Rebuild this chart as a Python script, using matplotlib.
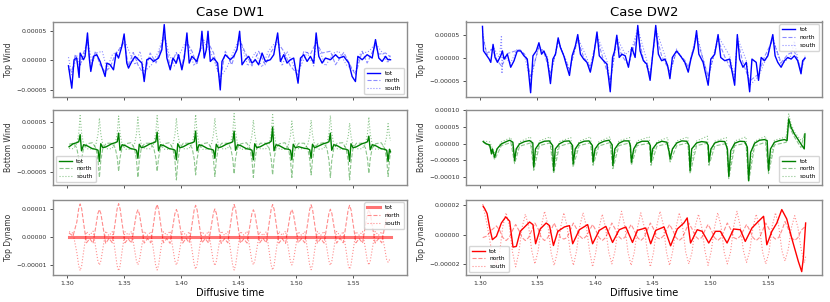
import matplotlib
matplotlib.use("Agg")
import matplotlib.pyplot as plt
from matplotlib.ticker import MultipleLocator, FuncFormatter
import numpy as np

# all values below are in units of 1e-5

# ---------------- Case DW1 : top wind ----------------
dw1_tw_t = [1.3015, 1.3044, 1.3064, 1.3087, 1.3108, 1.3117, 1.3146, 1.3160, 1.3181, 1.3198,
            1.3210, 1.3233, 1.3262, 1.3291, 1.3335, 1.3350, 1.3379, 1.3408, 1.3431, 1.3452,
            1.3481, 1.3501, 1.3524, 1.3539, 1.3568, 1.3597, 1.3626, 1.3656, 1.3676, 1.3699,
            1.3728, 1.3758, 1.3801, 1.3830, 1.3851, 1.3874, 1.3903, 1.3927, 1.3956, 1.3976,
            1.4005, 1.4026, 1.4049, 1.4069, 1.4093, 1.4136, 1.4166, 1.4180, 1.4200, 1.4218,
            1.4233, 1.4253, 1.4282, 1.4317, 1.4340, 1.4355, 1.4384, 1.4428, 1.4457, 1.4486,
            1.4509, 1.4530, 1.4559, 1.4588, 1.4617, 1.4646, 1.4675, 1.4705, 1.4734, 1.4777,
            1.4807, 1.4841, 1.4865, 1.4894, 1.4923, 1.4952, 1.4981, 1.5019, 1.5040, 1.5069,
            1.5098, 1.5127, 1.5156, 1.5177, 1.5200, 1.5229, 1.5258, 1.5302, 1.5346, 1.5375,
            1.5418, 1.5462, 1.5491, 1.5520, 1.5541, 1.5579, 1.5622, 1.5666, 1.5695, 1.5724,
            1.5753, 1.5783, 1.5803, 1.5826]
dw1_tw_tot = [-0.97, -4.77, 0.06, 0.34, -2.95, 1.19, 0.06, 0.63, 4.60, 0.06,
              -1.93, 0.63, 0.91, -0.23, -2.78, -0.51, -0.80, -1.65, 1.19, 0.34,
              2.33, 4.43, -0.51, -1.36, -0.23, 0.63, 0.06, -0.51, -3.64, 0.06,
              0.34, -0.23, 0.34, 1.76, 6.02, 0.34, -1.65, 0.34, -0.51, 0.91,
              -1.65, 0.34, 4.60, -0.51, 0.63, -0.23, 1.76, 4.89, 0.34, 1.76,
              4.89, -0.23, 0.34, -0.51, -5.06, -0.23, 0.91, 0.06, 0.63, 1.76,
              4.89, -0.80, 0.06, 0.63, -0.51, 0.06, -0.80, 1.19, -0.23, 0.06,
              0.91, 4.60, -0.23, 0.91, -0.51, 0.06, 0.34, -3.92, 0.34, 0.91,
              -0.23, 0.63, -0.51, 4.60, 0.63, -0.51, 0.34, 0.06, 0.91, 0.34,
              0.63, -0.51, -2.78, -3.64, 0.63, 0.06, 0.91, 0.34, 3.47, 0.34,
              -0.23, 0.63, 0.06, 0.06]
dw1_tw_north_t = [1.3015, 1.3044, 1.3075, 1.3108, 1.3146, 1.3181, 1.3210, 1.3250, 1.3291, 1.3335,
                  1.3379, 1.3420, 1.3501, 1.3539, 1.3580, 1.3626, 1.3676, 1.3728, 1.3780, 1.3851,
                  1.3903, 1.3956, 1.4005, 1.4049, 1.4093, 1.4136, 1.4180, 1.4233, 1.4282, 1.4340,
                  1.4384, 1.4440, 1.4509, 1.4559, 1.4617, 1.4675, 1.4734, 1.4777, 1.4841, 1.4894,
                  1.4952, 1.5019, 1.5069, 1.5127, 1.5177, 1.5229, 1.5302, 1.5346, 1.5418, 1.5491,
                  1.5520, 1.5579, 1.5622, 1.5695, 1.5724, 1.5783, 1.5826]
dw1_tw_north = [-1.5, -2.0, 1.0, -1.5, 1.2, 3.0, -1.5, 1.5, -0.8, -2.0,
                -1.2, 0.8, 3.0, -1.0, 1.3, -1.0, -2.5, 1.2, -0.5, 4.0,
                -1.2, 1.3, -1.0, 3.0, 1.5, -0.8, 3.5, 3.0, 1.2, -3.5,
                1.5, -0.8, 3.5, 1.2, -1.0, 1.5, -0.8, 1.2, 3.0, 1.5,
                -1.0, -2.5, 1.5, 1.0, 3.0, 1.2, 1.5, -0.8, 1.3, -1.5,
                -2.5, 1.5, -0.5, 2.5, 1.0, 1.2, 0.5]
dw1_tw_south_t = [1.3015, 1.3044, 1.3087, 1.3117, 1.3160, 1.3181, 1.3220, 1.3262, 1.3310, 1.3350,
                  1.3400, 1.3452, 1.3501, 1.3550, 1.3597, 1.3640, 1.3676, 1.3740, 1.3801, 1.3851,
                  1.3890, 1.3940, 1.3990, 1.4049, 1.4110, 1.4166, 1.4200, 1.4253, 1.4300, 1.4340,
                  1.4400, 1.4457, 1.4509, 1.4580, 1.4646, 1.4705, 1.4760, 1.4841, 1.4880, 1.4923,
                  1.4981, 1.5019, 1.5098, 1.5156, 1.5177, 1.5258, 1.5330, 1.5375, 1.5440, 1.5520,
                  1.5560, 1.5640, 1.5695, 1.5753, 1.5803, 1.5826]
dw1_tw_south = [0.5, -2.5, 0.8, -1.0, 1.5, 3.5, -0.5, 1.2, 1.5, -1.5,
                1.0, 1.5, 3.5, 1.2, -0.8, 1.5, -2.0, -0.8, 1.5, 4.5,
                1.2, -1.0, 1.2, 3.5, -1.0, 1.5, 3.0, 1.5, -0.8, -3.0,
                -1.2, 1.5, 3.8, -1.0, 1.3, -1.2, 1.5, 3.5, -1.0, 1.5,
                -1.0, -2.0, 1.3, -1.0, 3.2, -1.0, 1.2, 1.5, -0.8, -2.0,
                1.0, 1.5, 2.8, 1.3, -0.5, 1.0]

# ---------------- Case DW1 : bottom wind ----------------
dw1_bw_t = [1.3020,
            1.3057, 1.3087, 1.3105, 1.3117, 1.3129, 1.3147, 1.3177,
            1.3225, 1.3255, 1.3273, 1.3285, 1.3297, 1.3315, 1.3345,
            1.3393, 1.3423, 1.3441, 1.3453, 1.3465, 1.3483, 1.3513,
            1.3561, 1.3591, 1.3609, 1.3621, 1.3633, 1.3651, 1.3681,
            1.3729, 1.3759, 1.3777, 1.3789, 1.3801, 1.3819, 1.3849,
            1.3897, 1.3927, 1.3945, 1.3957, 1.3969, 1.3987, 1.4017,
            1.4065, 1.4095, 1.4113, 1.4125, 1.4137, 1.4155, 1.4185,
            1.4233, 1.4263, 1.4281, 1.4293, 1.4305, 1.4323, 1.4353,
            1.4401, 1.4431, 1.4449, 1.4461, 1.4473, 1.4491, 1.4521,
            1.4569, 1.4599, 1.4617, 1.4629, 1.4641, 1.4659, 1.4689,
            1.4737, 1.4767, 1.4785, 1.4797, 1.4809, 1.4827, 1.4857,
            1.4905, 1.4935, 1.4953, 1.4965, 1.4977, 1.4995, 1.5025,
            1.5073, 1.5103, 1.5121, 1.5133, 1.5145, 1.5163, 1.5193,
            1.5241, 1.5271, 1.5289, 1.5301, 1.5313, 1.5331, 1.5361,
            1.5409, 1.5439, 1.5457, 1.5469, 1.5481, 1.5499, 1.5529,
            1.5577, 1.5607, 1.5625, 1.5637, 1.5649, 1.5667, 1.5697,
            1.5745, 1.5775, 1.5793, 1.5805, 1.5817, 1.5826]
dw1_bw_tot = [0.0,
              0.6, 0.8, 1.0, 2.4, -0.8, 0.4, 0.2,
              -0.4, -0.5, -0.7, -2.9, 0.6, -0.2, 0.0,
              0.6, 0.8, 1.0, 2.7, -0.7, 0.4, 0.2,
              -0.4, -0.5, -0.7, -2.3, 0.5, -0.2, 0.0,
              0.6, 0.8, 1.0, 2.9, -0.8, 0.4, 0.2,
              -0.4, -0.5, -0.7, -2.6, 0.6, -0.2, 0.0,
              0.6, 0.8, 1.0, 3.1, -0.8, 0.4, 0.2,
              -0.4, -0.5, -0.7, -2.3, 0.5, -0.2, 0.0,
              0.6, 0.8, 1.0, 3.1, -0.7, 0.4, 0.2,
              -0.4, -0.5, -0.7, -2.6, 0.6, -0.2, 0.0,
              0.6, 0.8, 1.1, 3.9, -0.8, 0.4, 0.2,
              -0.4, -0.5, -0.7, -2.6, 0.5, -0.2, 0.0,
              -0.3, -0.4, -0.6, -2.3, 0.5, -0.2, 0.1,
              0.6, 0.8, 1.0, 2.7, -0.7, 0.4, 0.2,
              -0.4, -0.5, -0.7, -2.9, 0.6, -0.2, 0.0,
              0.6, 0.8, 1.0, 2.1, -0.6, 0.4, 0.2,
              -0.4, -0.5, -0.7, -2.9, -0.5, -1.0]
dw1_bw_north = [0.5,
                0.7, -0.2, -2.4, -5.5, -2.5, -0.3, 0.6,
                0.8, -0.3, -2.7, -6.1, -2.8, -0.3, 0.7,
                0.7, -0.2, -2.2, -4.9, -2.2, -0.2, 0.6,
                0.8, -0.3, -2.7, -6.1, -2.7, -0.3, 0.7,
                0.7, -0.2, -2.2, -4.9, -2.3, -0.2, 0.6,
                0.8, -0.4, -2.9, -6.6, -3.0, -0.3, 0.7,
                0.7, -0.3, -2.5, -5.6, -2.5, -0.3, 0.6,
                0.8, -0.3, -2.6, -5.9, -2.7, -0.3, 0.7,
                0.7, -0.2, -2.4, -5.4, -2.4, -0.2, 0.6,
                0.8, -0.3, -2.7, -6.1, -2.8, -0.3, 0.7,
                0.7, -0.3, -2.5, -5.6, -2.5, -0.2, 0.6,
                0.8, -0.3, -2.7, -6.1, -2.7, -0.3, 0.7,
                0.7, -0.3, -2.5, -5.6, -2.6, -0.3, 0.6,
                0.8, -0.3, -2.7, -6.1, -2.8, -0.3, 0.7,
                0.8, -0.4, -2.9, -6.6, -3.0, -0.3, 0.7,
                0.7, -0.2, -2.4, -5.3, -2.4, -0.2, 0.6,
                0.8, -0.3, -2.6, -5.9, -2.7, -1.0]
dw1_bw_south = [-0.3,
                -0.4, 0.6, 2.7, 6.2, 2.8, 0.5, -0.4,
                -0.5, 0.5, 2.5, 5.7, 2.6, 0.4, -0.4,
                -0.4, 0.6, 2.7, 6.1, 2.7, 0.5, -0.5,
                -0.5, 0.5, 2.6, 5.9, 2.6, 0.4, -0.4,
                -0.4, 0.6, 2.8, 6.2, 2.8, 0.5, -0.5,
                -0.5, 0.5, 2.5, 5.7, 2.5, 0.4, -0.4,
                -0.4, 0.6, 2.8, 6.4, 2.9, 0.5, -0.5,
                -0.5, 0.5, 2.5, 5.7, 2.6, 0.4, -0.4,
                -0.4, 0.7, 2.9, 6.6, 3.0, 0.5, -0.5,
                -0.5, 0.4, 2.3, 5.3, 2.4, 0.4, -0.4,
                -0.4, 0.6, 2.8, 6.4, 2.9, 0.5, -0.5,
                -0.5, 0.4, 2.2, 5.1, 2.3, 0.4, -0.4,
                -0.4, 0.4, 2.3, 5.3, 2.4, 0.4, -0.5,
                -0.4, 0.6, 2.7, 6.2, 2.8, 0.5, -0.4,
                -0.5, 0.4, 2.1, 4.7, 2.1, 0.3, -0.4,
                -0.4, 0.5, 2.6, 5.9, 2.6, 0.4, -0.5,
                -0.4, 0.4, 2.0, 4.6, 2.2, 1.2]

# ---------------- Case DW1 : top dynamo ----------------
dw1_dyn_t = [1.3020, 1.3055,
             1.3088, 1.3104, 1.3117, 1.3130, 1.3146, 1.3172, 1.3201, 1.3230,
             1.3256, 1.3272, 1.3285, 1.3298, 1.3314, 1.3340, 1.3369, 1.3398,
             1.3424, 1.3440, 1.3453, 1.3466, 1.3482, 1.3508, 1.3537, 1.3566,
             1.3592, 1.3608, 1.3621, 1.3634, 1.3650, 1.3676, 1.3705, 1.3734,
             1.3760, 1.3776, 1.3789, 1.3802, 1.3818, 1.3844, 1.3873, 1.3902,
             1.3928, 1.3944, 1.3957, 1.3970, 1.3986, 1.4012, 1.4041, 1.4070,
             1.4096, 1.4112, 1.4125, 1.4138, 1.4154, 1.4180, 1.4209, 1.4238,
             1.4264, 1.4280, 1.4293, 1.4306, 1.4322, 1.4348, 1.4377, 1.4406,
             1.4432, 1.4448, 1.4461, 1.4474, 1.4490, 1.4516, 1.4545, 1.4574,
             1.4600, 1.4616, 1.4629, 1.4642, 1.4658, 1.4684, 1.4713, 1.4742,
             1.4768, 1.4784, 1.4797, 1.4810, 1.4826, 1.4852, 1.4881, 1.4910,
             1.4936, 1.4952, 1.4965, 1.4978, 1.4994, 1.5020, 1.5049, 1.5078,
             1.5104, 1.5120, 1.5133, 1.5146, 1.5162, 1.5188, 1.5217, 1.5246,
             1.5272, 1.5288, 1.5301, 1.5314, 1.5330, 1.5356, 1.5385, 1.5414,
             1.5440, 1.5456, 1.5469, 1.5482, 1.5498, 1.5524, 1.5553, 1.5582,
             1.5608, 1.5624, 1.5637, 1.5650, 1.5666, 1.5692, 1.5721, 1.5750,
             1.5776, 1.5792, 1.5805, 1.5826]
dw1_dyn_north = [0.15, 0.05,
                 0.55, 1.02, 1.20, 1.03, 0.55, -0.20, -0.05, -0.22,
                 0.45, 0.86, 1.00, 0.85, 0.45, -0.22, -0.04, -0.20,
                 0.56, 1.03, 1.21, 1.02, 0.54, -0.20, -0.06, -0.21,
                 0.46, 0.85, 0.99, 0.84, 0.44, -0.21, -0.05, -0.20,
                 0.55, 1.01, 1.18, 1.00, 0.53, -0.20, -0.05, -0.22,
                 0.45, 0.85, 1.00, 0.85, 0.46, -0.21, -0.04, -0.20,
                 0.54, 0.98, 1.15, 0.98, 0.52, -0.20, -0.05, -0.21,
                 0.46, 0.87, 1.02, 0.86, 0.45, -0.22, -0.05, -0.20,
                 0.55, 1.00, 1.18, 1.00, 0.54, -0.21, -0.06, -0.21,
                 0.45, 0.85, 0.99, 0.85, 0.45, -0.20, -0.04, -0.20,
                 0.55, 1.00, 1.18, 1.01, 0.54, -0.21, -0.05, -0.22,
                 0.45, 0.86, 1.00, 0.85, 0.45, -0.20, -0.05, -0.20,
                 0.54, 0.99, 1.17, 0.99, 0.53, -0.21, -0.05, -0.21,
                 0.45, 0.85, 1.01, 0.86, 0.46, -0.21, -0.04, -0.20,
                 0.53, 0.98, 1.15, 0.98, 0.52, -0.20, -0.05, -0.21,
                 0.45, 0.85, 1.00, 0.84, 0.45, -0.21, -0.05, -0.20,
                 0.42, 0.78, 0.90, 0.72]
dw1_dyn_south = [0.20, 0.15,
                 -0.55, -1.02, -1.20, -1.03, -0.55, 0.20, 0.08, 0.22,
                 -0.45, -0.86, -1.00, -0.85, -0.45, 0.22, 0.06, 0.20,
                 -0.56, -1.03, -1.21, -1.02, -0.54, 0.20, 0.08, 0.21,
                 -0.46, -0.85, -0.99, -0.84, -0.44, 0.21, 0.07, 0.20,
                 -0.55, -1.01, -1.18, -1.00, -0.53, 0.20, 0.07, 0.22,
                 -0.45, -0.85, -1.00, -0.85, -0.46, 0.21, 0.06, 0.20,
                 -0.54, -0.98, -1.15, -0.98, -0.52, 0.20, 0.07, 0.21,
                 -0.46, -0.87, -1.02, -0.86, -0.45, 0.22, 0.07, 0.20,
                 -0.55, -1.00, -1.18, -1.00, -0.54, 0.21, 0.08, 0.21,
                 -0.45, -0.85, -0.99, -0.85, -0.45, 0.20, 0.06, 0.20,
                 -0.55, -1.00, -1.18, -1.01, -0.54, 0.21, 0.07, 0.22,
                 -0.45, -0.86, -1.00, -0.85, -0.45, 0.20, 0.07, 0.20,
                 -0.54, -0.99, -1.17, -0.99, -0.53, 0.21, 0.07, 0.21,
                 -0.45, -0.85, -1.01, -0.86, -0.46, 0.21, 0.06, 0.20,
                 -0.53, -0.98, -1.15, -0.98, -0.52, 0.20, 0.07, 0.21,
                 -0.45, -0.85, -1.00, -0.84, -0.45, 0.21, 0.07, 0.20,
                 -0.42, -0.80, -0.90, -0.75]
dw1_dyn_tot_t = [1.3020, 1.3500, 1.4000, 1.4500, 1.5000, 1.5500, 1.5826]
dw1_dyn_tot = [0.0, 0.0, 0.0, 0.0, 0.0, 0.0, 0.0]

# ---------------- Case DW2 : top wind ----------------
dw2_tw_t = [1.3023, 1.3032, 1.3052, 1.3081, 1.3095, 1.3115, 1.3132, 1.3153, 1.3181, 1.3196,
            1.3210, 1.3239, 1.3268, 1.3297, 1.3325, 1.3354, 1.3383, 1.3412, 1.3441, 1.3461,
            1.3490, 1.3513, 1.3536, 1.3556, 1.3585, 1.3613, 1.3634, 1.3657, 1.3680, 1.3700,
            1.3729, 1.3757, 1.3778, 1.3801, 1.3829, 1.3850, 1.3873, 1.3901, 1.3930, 1.3959,
            1.3988, 1.4017, 1.4037, 1.4074, 1.4103, 1.4132, 1.4152, 1.4169, 1.4189, 1.4210,
            1.4233, 1.4262, 1.4290, 1.4319, 1.4348, 1.4371, 1.4391, 1.4420, 1.4449, 1.4478,
            1.4498, 1.4527, 1.4550, 1.4578, 1.4607, 1.4630, 1.4650, 1.4671, 1.4708, 1.4751,
            1.4780, 1.4809, 1.4832, 1.4861, 1.4881, 1.4901, 1.4938, 1.4982, 1.5005, 1.5039,
            1.5068, 1.5091, 1.5126, 1.5169, 1.5212, 1.5235, 1.5255, 1.5284, 1.5313, 1.5342,
            1.5362, 1.5399, 1.5419, 1.5442, 1.5471, 1.5500, 1.5543, 1.5563, 1.5586, 1.5615,
            1.5644, 1.5673, 1.5702, 1.5730, 1.5759, 1.5788, 1.5802, 1.5823]
dw2_tw_tot = [6.93, 1.57, 0.86, -0.21, -0.93, 3.00, 0.14, -0.93, 0.50, 1.57,
              -0.21, 0.86, -2.00, -0.57, 1.57, 1.57, 0.50, -0.21, -7.57, 0.50,
              1.57, 3.36, 0.86, 1.57, -0.21, -5.57, -0.21, 0.86, 4.43, 2.29,
              0.50, -2.00, -3.79, 0.50, 2.64, 5.14, 0.86, -0.21, -0.93, -3.07,
              0.50, 5.71, 0.50, -0.57, -1.29, -7.36, 0.14, 1.50, 5.00, 0.14,
              0.86, 0.50, -2.00, 2.29, 0.14, 7.14, 1.57, -0.57, -1.29, -4.86,
              0.14, 7.14, 0.86, -0.57, -0.21, -1.64, -4.50, 0.14, 1.57, 0.14,
              -0.93, -3.07, -0.21, 2.29, 6.00, 0.86, -0.93, -5.93, -0.21, 0.86,
              5.14, 0.14, -0.57, -0.21, -5.93, 5.14, -0.21, -2.00, -0.93, -7.36,
              -0.21, -0.93, -4.86, 0.14, -0.57, 0.50, 5.14, 0.50, -0.93, -2.00,
              -0.57, 0.14, -0.21, 0.50, -0.57, -3.43, -0.57, 0.00]
dw2_tw_north_t = [1.3023, 1.3060, 1.3110, 1.3150, 1.3190, 1.3240, 1.3300, 1.3350, 1.3400, 1.3441,
                  1.3513, 1.3560, 1.3613, 1.3680, 1.3730, 1.3778, 1.3850, 1.3900, 1.3959, 1.4017,
                  1.4074, 1.4132, 1.4189, 1.4233, 1.4290, 1.4371, 1.4420, 1.4478, 1.4527, 1.4578,
                  1.4650, 1.4708, 1.4780, 1.4809, 1.4881, 1.4938, 1.4982, 1.5068, 1.5126, 1.5212,
                  1.5235, 1.5284, 1.5342, 1.5419, 1.5471, 1.5543, 1.5615, 1.5673, 1.5730, 1.5788,
                  1.5823]
dw2_tw_north = [5.0, 1.0, 2.0, -0.5, -1.8, 1.0, 1.5, 1.8, 0.5, -4.0,
                2.5, 1.0, -3.5, 3.5, 0.5, -2.5, 4.0, 0.3, -2.0, 4.5,
                -0.5, -5.0, 4.0, 0.5, -1.5, 5.5, -0.3, -3.5, 5.5, 0.5,
                -3.0, 1.5, -0.5, -2.0, 4.5, -0.3, -4.0, 4.0, 0.3, -4.0,
                4.0, -1.0, -5.0, -3.5, 0.3, 4.0, -1.0, 0.8, 1.5, -2.5,
                0.3]
dw2_tw_south_t = [1.3023, 1.3060, 1.3115, 1.3170, 1.3188, 1.3192, 1.3200, 1.3268, 1.3325, 1.3383,
                  1.3441, 1.3513, 1.3585, 1.3613, 1.3680, 1.3757, 1.3778, 1.3850, 1.3930, 1.3959,
                  1.4017, 1.4103, 1.4132, 1.4189, 1.4262, 1.4319, 1.4371, 1.4449, 1.4478, 1.4527,
                  1.4607, 1.4650, 1.4708, 1.4809, 1.4881, 1.4982, 1.5068, 1.5169, 1.5212, 1.5235,
                  1.5313, 1.5342, 1.5419, 1.5500, 1.5543, 1.5615, 1.5702, 1.5730, 1.5759, 1.5788,
                  1.5823]
dw2_tw_south = [6.0, 0.5, 2.5, 0.0, 5.0, -3.4, 0.5, -1.0, 2.0, 1.0,
                -5.0, 2.8, 0.5, -4.0, 3.8, -1.0, -2.8, 4.5, 0.0, -2.5,
                5.0, -0.5, -5.5, 4.5, 0.8, 2.0, 6.5, -0.5, -4.0, 6.5,
                0.5, -3.5, 2.0, -2.5, 5.5, -4.5, 4.8, 0.5, -4.5, 4.5,
                -0.5, -6.0, -4.0, 0.8, 4.5, -1.5, 0.5, 3.7, 0.0, -2.8,
                0.5]

# ---------------- Case DW2 : bottom wind ----------------
dw2_bw_t = [1.3029, 1.3057, 1.3086, 1.3101, 1.3109, 1.3129, 1.3149, 1.3187, 1.3230, 1.3259,
            1.3287, 1.3302, 1.3316, 1.3345, 1.3388, 1.3431, 1.3460, 1.3468, 1.3483, 1.3517,
            1.3560, 1.3603, 1.3632, 1.3641, 1.3655, 1.3690, 1.3733, 1.3776, 1.3805, 1.3810,
            1.3828, 1.3862, 1.3905, 1.3948, 1.3977, 1.3983, 1.4000, 1.4034, 1.4078, 1.4121,
            1.4149, 1.4155, 1.4172, 1.4207, 1.4250, 1.4293, 1.4307, 1.4316, 1.4336, 1.4365,
            1.4408, 1.4460, 1.4480, 1.4486, 1.4500, 1.4537, 1.4580, 1.4624, 1.4644, 1.4652,
            1.4672, 1.4710, 1.4753, 1.4796, 1.4816, 1.4825, 1.4839, 1.4882, 1.4925, 1.4968,
            1.4983, 1.4989, 1.5006, 1.5040, 1.5083, 1.5126, 1.5149, 1.5161, 1.5178, 1.5213,
            1.5256, 1.5299, 1.5322, 1.5333, 1.5351, 1.5385, 1.5428, 1.5471, 1.5494, 1.5506,
            1.5523, 1.5557, 1.5601, 1.5644, 1.5667, 1.5681, 1.5701, 1.5730, 1.5759, 1.5787,
            1.5816, 1.5822]
dw2_bw_tot = [0.6, -0.1, -0.4, -3.1, -1.6, -4.1, -1.6, -0.1, 0.6, 1.0,
              0.4, -5.1, -1.6, -0.1, 0.6, 0.9, 0.2, -7.1, -1.6, 0.1,
              0.7, 0.8, -0.6, -8.1, -1.6, -0.1, 0.7, 0.8, -0.6, -6.1,
              -1.6, 0.1, 0.7, 0.8, -0.6, -5.6, -1.6, 0.0, 0.7, 1.0,
              -0.4, -6.6, -1.6, 0.1, 0.8, 0.8, -0.6, -5.6, -1.6, 0.1,
              0.7, 0.7, -0.6, -5.6, -1.6, 0.1, 0.7, 0.4, -2.6, -4.6,
              -1.6, 0.2, 0.8, 0.7, -0.6, -8.1, -1.6, 0.2, 0.6, 0.4,
              -0.6, -5.6, -1.6, 0.2, 0.7, 0.6, -1.6, -9.8, -2.1, 0.1,
              0.7, 0.6, -1.1, -11.1, -2.6, 0.1, 1.0, 1.2, 0.9, -8.1,
              -1.6, 0.4, 0.9, 1.2, 0.9, 7.4, 4.9, 2.9, 1.4, -0.1,
              -1.6, 2.9]
dw2_bw_side_t = [1.3029, 1.3086, 1.3129, 1.3187, 1.3270, 1.3302, 1.3345, 1.3440, 1.3468, 1.3517,
                 1.3610, 1.3641, 1.3690, 1.3790, 1.3810, 1.3862, 1.3960, 1.3983, 1.4034, 1.4130,
                 1.4155, 1.4207, 1.4300, 1.4316, 1.4365, 1.4470, 1.4486, 1.4537, 1.4630, 1.4652,
                 1.4710, 1.4805, 1.4825, 1.4882, 1.4975, 1.4989, 1.5040, 1.5140, 1.5161, 1.5213,
                 1.5310, 1.5333, 1.5385, 1.5480, 1.5506, 1.5557, 1.5660, 1.5681, 1.5701, 1.5730,
                 1.5787, 1.5822]
dw2_bw_north = [0.4, -0.8, -4.8, -0.6, 0.3, -6.0, -0.8, 0.2, -8.0, -0.6,
                0.2, -9.0, -0.8, 0.2, -7.0, -0.6, 0.2, -6.5, -0.7, 0.3,
                -7.5, -0.6, 0.2, -6.5, -0.6, 0.1, -6.5, -0.8, 0.0, -5.5,
                -0.6, 0.2, -9.0, -0.6, 0.1, -6.5, -0.7, 0.0, -10.5, -0.6,
                0.1, -11.5, -0.7, 0.4, -9.0, -0.4, 0.4, 6.0, 4.0, 2.0,
                -1.2, 3.5]
dw2_bw_south = [0.8, 0.5, -3.0, 0.5, 1.8, -4.0, 0.5, 2.0, -6.0, 0.8,
                2.0, -7.0, 0.6, 1.8, -5.0, 0.7, 2.0, -4.5, 0.6, 2.0,
                -5.5, 0.8, 1.8, -4.5, 0.8, 2.0, -4.5, 0.6, 1.8, -3.5,
                0.8, 2.0, -7.0, 0.8, 2.2, -4.5, 0.7, 1.8, -8.5, 0.8,
                2.0, -9.5, 0.7, 2.2, -7.0, 1.0, 2.0, 8.9, 6.0, 3.5,
                1.0, 2.0]

# ---------------- Case DW2 : top dynamo ----------------
dw2_dyn_tot_t = [1.3029, 1.3043, 1.3063, 1.3086, 1.3109, 1.3144, 1.3187, 1.3225, 1.3259, 1.3288,
                 1.3317, 1.3351, 1.3389, 1.3432, 1.3461, 1.3484, 1.3524, 1.3576, 1.3605, 1.3639,
                 1.3677, 1.3734, 1.3778, 1.3806, 1.3864, 1.3936, 1.3979, 1.4037, 1.4094, 1.4152,
                 1.4210, 1.4267, 1.4325, 1.4368, 1.4440, 1.4483, 1.4527, 1.4599, 1.4656, 1.4714,
                 1.4771, 1.4800, 1.4829, 1.4887, 1.4930, 1.4987, 1.5045, 1.5088, 1.5146, 1.5203,
                 1.5261, 1.5304, 1.5362, 1.5419, 1.5463, 1.5491, 1.5535, 1.5578, 1.5621, 1.5664,
                 1.5707, 1.5765, 1.5794, 1.5808, 1.5828]
dw2_dyn_tot = [1.95, 1.77, 1.45, 0.46, -0.34, -0.11, 0.80, 1.22, 0.92, -0.85,
               -0.80, 0.23, 0.53, 0.87, 0.69, -0.62, 0.39, 0.80, 0.62, -0.74,
               0.23, 0.53, 0.62, -0.62, 0.34, 0.69, -0.62, 0.30, 0.57, -0.53,
               0.34, 0.53, -0.53, 0.30, 0.46, -0.62, 0.30, 0.53, -0.76, 0.39,
               0.80, 1.15, -0.57, 0.34, 0.23, -0.57, 0.23, 0.23, -0.57, 0.39,
               0.34, -0.46, 0.46, 0.92, 1.26, -0.69, 0.23, 0.80, 1.72, 1.08,
               -0.23, -1.84, -2.53, -1.60, 0.80]
dw2_dyn_t = [1.3025, 1.3060, 1.3100,
             1.3144, 1.3172, 1.3200, 1.3228, 1.3256, 1.3284,
             1.3311, 1.3339, 1.3367, 1.3395, 1.3423, 1.3451,
             1.3478, 1.3506, 1.3534, 1.3562, 1.3590, 1.3618,
             1.3645, 1.3673, 1.3701, 1.3729, 1.3757, 1.3785,
             1.3812, 1.3840, 1.3868, 1.3896, 1.3924, 1.3952,
             1.3979, 1.4007, 1.4035, 1.4063, 1.4091, 1.4119,
             1.4146, 1.4174, 1.4202, 1.4230, 1.4258, 1.4286,
             1.4313, 1.4341, 1.4369, 1.4397, 1.4425, 1.4453,
             1.4480, 1.4508, 1.4536, 1.4564, 1.4592, 1.4620,
             1.4647, 1.4675, 1.4703, 1.4731, 1.4759, 1.4787,
             1.4814, 1.4842, 1.4870, 1.4898, 1.4926, 1.4954,
             1.4981, 1.5009, 1.5037, 1.5065, 1.5093, 1.5121,
             1.5148, 1.5176, 1.5204, 1.5232, 1.5260, 1.5288,
             1.5315, 1.5343, 1.5371, 1.5399, 1.5427, 1.5455,
             1.5482, 1.5510, 1.5538, 1.5566, 1.5594, 1.5622,
             1.5649, 1.5677, 1.5705, 1.5733, 1.5761, 1.5789,
             1.5816, 1.5828]
dw2_dyn_north = [-0.2, -0.1, 0.3,
                 0.6, 0.3, -0.2, -0.4, -0.2, 0.3,
                 0.7, 0.3, -0.2, -0.4, -0.2, 0.3,
                 0.8, 0.4, -0.2, -0.4, -0.2, 0.3,
                 0.8, 0.3, -0.2, -0.3, -0.2, 0.3,
                 0.8, 0.4, -0.1, -0.3, -0.1, 0.3,
                 0.7, 0.3, -0.2, -0.4, -0.2, 0.3,
                 0.8, 0.4, -0.1, -0.3, -0.2, 0.3,
                 0.7, 0.3, -0.2, -0.4, -0.2, 0.3,
                 0.8, 0.4, -0.2, -0.3, -0.1, 0.3,
                 0.7, 0.3, -0.2, -0.4, -0.2, 0.3,
                 0.8, 0.4, -0.1, -0.3, -0.2, 0.3,
                 0.7, 0.3, -0.2, -0.4, -0.2, 0.3,
                 0.8, 0.4, -0.2, -0.3, -0.1, 0.3,
                 0.7, 0.3, -0.2, -0.4, -0.2, 0.3,
                 0.8, 0.4, -0.1, -0.3, -0.2, 0.3,
                 0.9, 0.4, -0.2, -0.4, -0.2, 0.3,
                 0.5, 0.4]
dw2_dyn_south = [2.1, 0.8, -1.0,
                 -2.1, -1.2, 0.6, 1.5, 0.6, -1.2,
                 -2.2, -1.2, 0.5, 1.4, 0.6, -1.1,
                 -2.0, -1.1, 0.6, 1.6, 0.7, -1.2,
                 -2.1, -1.2, 0.5, 1.5, 0.6, -1.2,
                 -2.1, -1.1, 0.6, 1.5, 0.6, -1.1,
                 -2.2, -1.2, 0.5, 1.4, 0.5, -1.2,
                 -2.0, -1.1, 0.6, 1.6, 0.6, -1.2,
                 -2.1, -1.2, 0.5, 1.5, 0.6, -1.1,
                 -2.2, -1.2, 0.6, 1.6, 0.7, -1.2,
                 -2.1, -1.1, 0.5, 1.5, 0.6, -1.2,
                 -2.0, -1.2, 0.6, 1.4, 0.5, -1.1,
                 -2.1, -1.1, 0.5, 1.5, 0.6, -1.2,
                 -2.0, -1.2, 0.6, 1.6, 0.6, -1.1,
                 -1.9, -1.1, 0.5, 1.4, 0.5, -1.2,
                 -2.0, -1.2, 0.6, 1.5, 0.6, -1.1,
                 -1.8, -1.0, 0.5, 1.3, 0.5, -1.0,
                 -1.9, -1.5]

scale = 1e-5


def yfmt(x, pos):
    if abs(x) < 1e-12:
        return "0.00000"
    return ("%.5f" % x).replace("-", "\u2212")


def style(ax, ylabel, ylim, step):
    ax.set_xlim(1.288, 1.597)
    ax.set_ylim(ylim[0] * scale, ylim[1] * scale)
    ax.yaxis.set_major_locator(MultipleLocator(step * scale))
    ax.yaxis.set_major_formatter(FuncFormatter(yfmt))
    ax.xaxis.set_major_locator(MultipleLocator(0.05))
    ax.tick_params(labelsize=4.5, length=2.5, width=0.6, colors="0.2", pad=2)
    for sp in ax.spines.values():
        sp.set_color("0.55")
        sp.set_linewidth(1.0)
    ax.set_ylabel(ylabel, fontsize=5.5, color="0.2", labelpad=2)


def draw(ax, t_tot, tot, t_n, north, t_s, south, color, loc, tot_lw=1.0, tot_alpha=1.0):
    ax.plot(t_tot, np.array(tot) * scale, color=color, lw=tot_lw, alpha=tot_alpha, label="tot")
    ax.plot(t_n, np.array(north) * scale, color=color, ls="--", lw=0.8, alpha=0.45, label="north")
    ax.plot(t_s, np.array(south) * scale, color=color, ls=":", lw=0.8, alpha=0.45, label="south")
    ax.legend(loc=loc, fontsize=4.2, handlelength=2.2, borderpad=0.5, labelspacing=0.45,
              framealpha=0.8)


fig = plt.figure(figsize=(8.3, 3.02), dpi=100)

W = 354 / 830
rows = [(302 - 97) / 302, (302 - 185) / 302, (302 - 275) / 302]
H = 75.5 / 302

# left column, case DW1
ax1 = fig.add_axes([53 / 830, rows[0], W, H])
ax2 = fig.add_axes([53 / 830, rows[1], W, H], sharex=ax1)
ax3 = fig.add_axes([53 / 830, rows[2], W, H], sharex=ax1)

draw(ax1, dw1_tw_t, dw1_tw_tot, dw1_tw_north_t, dw1_tw_north, dw1_tw_south_t, dw1_tw_south,
     "blue", "lower right")
style(ax1, "Top Wind", (-6.26, 6.54), 5)
ax1.set_title("Case DW1", fontsize=9.5, pad=4)

draw(ax2, dw1_bw_t, dw1_bw_tot, dw1_bw_t, dw1_bw_north, dw1_bw_t, dw1_bw_south,
     "green", "lower left")
style(ax2, "Bottom Wind", (-7.6, 7.4), 5)

draw(ax3, dw1_dyn_tot_t, dw1_dyn_tot, dw1_dyn_t, dw1_dyn_north, dw1_dyn_t, dw1_dyn_south,
     "red", "upper right", tot_lw=2.2, tot_alpha=0.55)
style(ax3, "Top Dynamo", (-1.36, 1.36), 1)
ax3.set_xlabel("Diffusive time", fontsize=7, labelpad=1)

# right column, case DW2
ax4 = fig.add_axes([466 / 830, rows[0], 356 / 830, H])
ax5 = fig.add_axes([466 / 830, rows[1], 356 / 830, H], sharex=ax4)
ax6 = fig.add_axes([466 / 830, rows[2], 356 / 830, H], sharex=ax4)

draw(ax4, dw2_tw_t, dw2_tw_tot, dw2_tw_north_t, dw2_tw_north, dw2_tw_south_t, dw2_tw_south,
     "blue", "upper right")
style(ax4, "Top Wind", (-8.5, 8.0), 5)
ax4.set_title("Case DW2", fontsize=9.5, pad=4)

draw(ax5, dw2_bw_t, dw2_bw_tot, dw2_bw_side_t, dw2_bw_north, dw2_bw_side_t, dw2_bw_south,
     "green", "lower right")
style(ax5, "Bottom Wind", (-12.4, 10.2), 5)

draw(ax6, dw2_dyn_tot_t, dw2_dyn_tot, dw2_dyn_t, dw2_dyn_north, dw2_dyn_t, dw2_dyn_south,
     "red", "lower left")
style(ax6, "Top Dynamo", (-2.76, 2.41), 2)
ax6.set_xlabel("Diffusive time", fontsize=7, labelpad=1)

for ax in (ax1, ax2, ax4, ax5):
    ax.tick_params(labelbottom=False)

fig.savefig("out.png", dpi=100)
